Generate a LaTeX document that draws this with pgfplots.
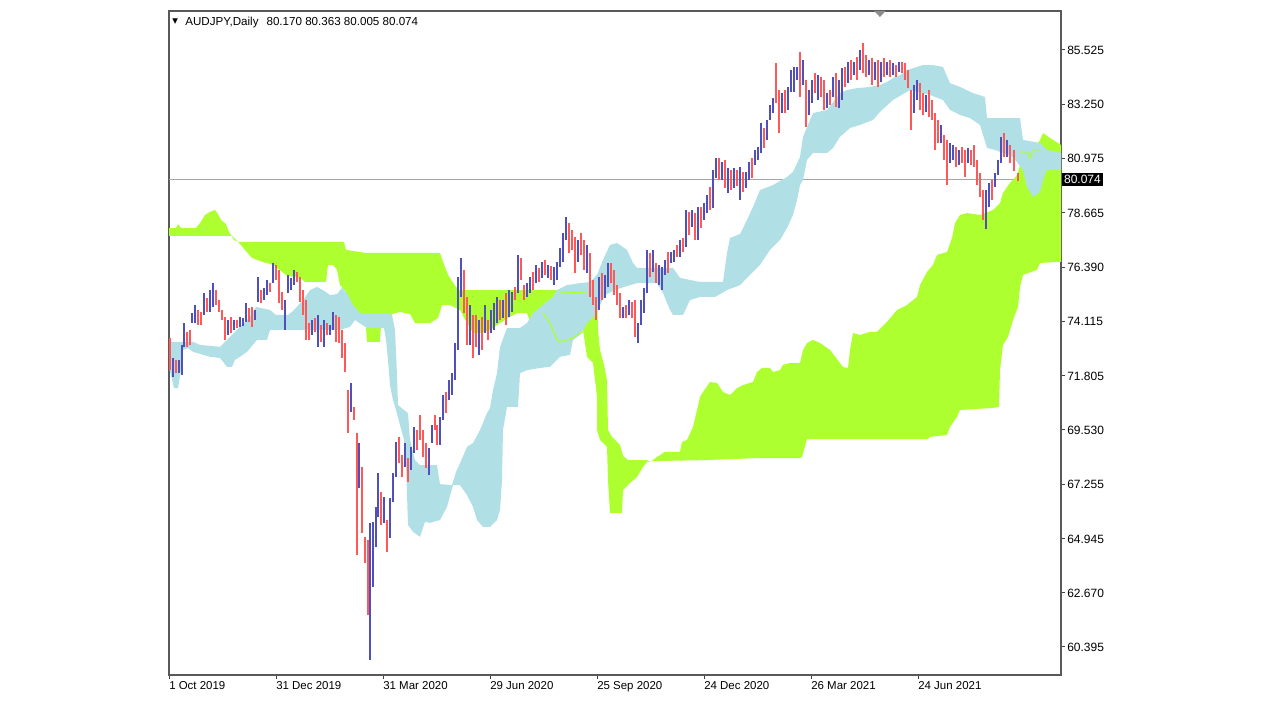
\documentclass[border=0pt]{standalone}
\usepackage{pgfplots}
\usepackage{pgfplotstable}
\pgfplotsset{compat=1.18}
\usepackage{fontspec}
\setmainfont{Liberation Sans}
\newfontfamily\dejavu{DejaVu Sans}
\definecolor{kumoG}{RGB}{173,255,47}
\definecolor{kumoB}{RGB}{176,224,230}
\definecolor{barUp}{RGB}{80,80,188}
\definecolor{barDn}{RGB}{255,88,88}

\pgfplotstableread{
x lo hi
4 71.76 72.56
10 71.92 72.48
13 71.84 73.11
15 73.03 74.03
23 74.03 74.45
26 74.03 74.79
35 74.37 75.29
41 74.50 75.42
44 74.71 75.71
59 73.53 74.16
65 73.74 74.16
71 73.87 74.29
74 73.91 74.24
77 74.08 74.87
86 74.16 74.58
89 74.92 75.97
95 75.00 75.51
98 75.21 75.84
104 75.71 76.56
116 73.74 75.00
119 75.29 76.06
122 75.42 75.93
125 75.63 76.27
143 73.53 74.16
149 73.03 74.37
155 73.03 74.16
161 73.53 73.95
164 73.74 74.50
182 70.29 71.51
190 67.08 68.98
201 59.85 65.62
204 62.92 65.66
207 64.61 66.29
209 65.87 67.72
215 65.62 66.71
221 64.98 66.66
224 66.50 67.72
227 67.55 69.03
236 67.97 68.98
242 67.84 68.82
245 68.56 69.66
260 67.63 68.77
263 68.98 69.74
271 68.90 70.08
274 69.95 71.00
280 70.79 71.63
283 71.00 71.92
286 71.63 73.19
289 72.90 75.97
292 75.13 76.77
301 73.11 74.79
310 72.69 74.16
316 73.61 74.79
322 73.61 74.58
325 73.74 74.87
328 74.03 75.13
334 74.24 75.00
340 74.29 75.42
343 74.50 75.34
349 75.29 76.90
358 75.13 75.71
361 75.29 75.97
367 75.71 76.48
373 75.93 76.61
379 75.93 76.48
385 75.63 76.40
388 75.84 76.61
391 76.40 77.19
394 76.61 77.82
397 77.53 78.49
409 76.61 77.53
418 76.14 77.32
430 74.58 75.97
436 75.08 76.06
439 75.55 76.56
454 74.24 74.71
460 74.37 75.00
469 73.19 74.03
472 73.95 75.00
475 74.45 75.51
478 75.29 77.11
484 76.19 77.11
490 75.63 76.48
493 75.42 76.40
496 76.06 76.69
502 76.56 77.02
505 76.61 77.11
511 76.81 77.53
517 77.23 78.79
523 78.08 78.79
529 77.53 78.92
535 78.37 79.08
538 78.66 79.42
544 78.87 80.47
547 80.14 80.98
553 80.05 80.81
559 79.51 80.56
565 79.72 80.56
571 79.21 80.60
577 79.72 80.39
580 80.05 80.81
586 80.68 81.32
589 80.90 81.44
592 81.19 82.45
598 81.74 82.58
601 82.58 83.21
604 82.87 83.50
613 82.87 83.71
619 83.00 83.97
622 83.76 84.68
625 83.76 84.81
628 84.26 84.81
634 84.05 85.10
640 82.79 83.84
643 83.29 84.26
649 83.42 84.47
658 83.08 83.71
664 83.55 84.39
670 83.08 84.26
673 83.42 84.76
679 84.13 85.02
685 84.47 85.02
691 84.68 85.53
700 84.47 85.10
706 84.26 85.02
712 84.18 85.02
718 84.47 85.02
724 84.47 84.97
730 84.60 85.02
745 82.87 84.05
748 83.42 84.26
757 82.92 83.63
772 81.61 82.37
781 80.77 81.61
784 80.90 81.53
790 80.68 81.32
799 80.77 81.40
817 77.99 79.63
820 78.92 79.93
826 79.76 80.35
829 80.26 80.90
832 80.77 81.87
838 81.02 81.74
}\upbars

\pgfplotstableread{
x lo hi
1 72.05 73.40
7 71.92 72.48
18 73.03 73.66
21 73.11 73.74
29 73.95 74.58
32 73.95 74.50
38 74.50 75.08
47 74.79 75.42
50 74.50 75.00
53 74.16 74.58
56 73.32 74.29
62 73.61 74.29
68 73.82 74.16
80 74.08 74.66
83 73.87 74.71
92 74.87 75.42
101 75.34 75.71
107 75.84 76.48
110 74.87 76.27
113 74.58 75.34
128 75.76 76.19
131 74.92 75.97
134 74.37 75.42
137 73.32 75.00
140 73.32 74.03
146 73.66 74.24
152 73.24 73.95
158 73.53 74.03
167 73.24 74.37
170 73.19 74.29
173 72.56 73.74
176 71.97 73.19
179 69.40 71.21
185 69.95 70.50
188 64.27 69.40
193 65.19 67.97
196 63.93 65.03
199 61.74 64.90
212 65.53 66.92
218 64.40 65.74
230 68.13 69.24
233 67.55 68.48
239 67.34 68.35
248 68.69 69.53
251 69.11 70.16
254 68.39 69.53
257 67.93 68.98
266 69.53 70.16
268 68.90 69.74
277 70.24 71.13
295 74.45 76.27
298 73.11 75.13
304 72.56 74.37
307 73.03 74.37
313 72.90 74.29
319 73.32 74.16
331 74.16 75.00
337 73.95 75.29
346 75.00 75.55
352 75.84 76.77
355 75.00 75.63
364 75.42 76.19
370 75.76 76.35
376 76.06 76.69
382 75.84 76.44
400 76.98 78.24
403 77.11 77.95
406 76.14 77.65
412 76.90 77.82
415 76.27 77.53
421 75.13 76.98
424 74.79 75.84
427 74.16 75.13
433 75.00 76.14
442 75.71 76.56
445 75.21 76.27
448 74.79 75.63
451 74.24 75.29
457 74.24 74.79
463 74.24 74.92
466 73.45 75.00
481 75.97 76.98
487 75.71 76.56
499 76.14 77.02
508 76.81 77.32
514 77.02 77.61
520 77.74 78.71
526 77.53 78.66
532 78.03 78.92
541 78.79 79.76
550 80.05 80.98
556 79.72 80.90
562 79.63 80.47
568 79.80 80.47
574 79.55 80.39
583 80.14 80.98
595 81.40 82.24
607 83.29 84.97
610 82.03 83.84
616 82.87 83.84
631 83.55 85.44
637 82.29 84.26
646 83.71 84.55
652 83.55 84.39
655 83.00 84.26
661 83.21 83.84
667 83.13 84.55
676 83.97 84.81
682 84.26 85.10
688 84.26 85.23
694 84.55 85.82
697 84.39 85.31
703 84.05 85.19
709 83.97 85.10
715 84.39 85.19
721 84.39 85.10
727 84.39 84.89
733 84.55 85.02
736 84.26 84.97
739 83.92 84.68
742 82.16 83.84
751 83.00 84.13
754 82.79 83.71
760 82.71 83.84
763 82.58 83.42
766 81.32 82.87
769 81.61 82.58
775 80.90 81.95
778 79.84 81.74
787 80.60 81.44
793 80.77 81.44
796 80.18 81.32
802 80.68 81.32
805 80.60 81.53
808 79.84 80.90
811 79.34 80.35
814 78.37 79.63
823 79.21 80.05
835 81.02 82.03
841 80.77 81.53
845 80.42 81.32
849 80.005 80.363
}\dnbars

\begin{document}
\begin{tikzpicture}
\path[use as bounding box] (0,0) rectangle (960pt,540pt);
\begin{axis}[
  at={(126.75pt,33.75pt)}, anchor=south west,
  scale only axis, width=669pt, height=498pt,
  xmin=0, xmax=892, ymin=59.216, ymax=87.167,
  axis line style={black!65, line width=0.9pt},
  tick style={black!75, line width=0.75pt},
  tick align=outside, major tick length=3pt,
  xtick pos=bottom, ytick pos=right, yticklabel pos=right,
  xtick={0,107,214,321,428,535,642,749},
  xticklabels={1 Oct 2019,31 Dec 2019,31 Mar 2020,29 Jun 2020,25 Sep 2020,24 Dec 2020,26 Mar 2021,24 Jun 2021},
  xticklabel style={anchor=north west, inner sep=0pt, yshift=-1.5pt, font=\fontsize{8.6}{10}\selectfont},
  ytick={60.395,62.670,64.945,67.255,69.530,71.805,74.115,76.390,78.665,80.975,83.250,85.525},
  yticklabels={60.395,62.670,64.945,67.255,69.530,71.805,74.115,76.390,78.665,80.975,83.250,85.525},
  yticklabel style={anchor=west, inner sep=0pt, xshift=1.5pt, font=\fontsize{9}{10}\selectfont},
  clip=false,
]
% current price line
\addplot[black!35, line width=0.8pt, forget plot] coordinates {(0,80.074) (892,80.074)};

% green kumo, upper left
\addplot[fill=kumoG, draw=none, forget plot] coordinates {
(0,78.03) (7,78.03) (9,78.20) (12,78.03) (27,78.03) (31,78.24) (36,78.58) (41,78.71) (46,78.79) (49,78.62) (52,78.37) (57,78.20) (60,77.87) (65,77.53) (69,77.45) (175,77.45) (177,77.11) (197,76.98) (271,76.98) (274,76.61) (279,76.06) (287,75.55) (291,75.42) (391,75.42) (393,75.29)
(381,75.00) (376,74.33) (371,74.50) (366,74.50) (361,74.08) (358,74.45) (348,74.45) (341,74.29) (331,74.03) (321,73.74) (311,73.61) (304,73.61) (298,74.03) (291,74.58) (281,74.79) (273,74.79) (269,74.24) (261,74.03) (246,74.03) (241,74.41) (231,74.50) (223,74.41) (219,74.08) (212,73.95) (211,73.24) (198,73.24) (197,73.87) (191,74.08) (184,74.58) (177,75.34) (171,75.63) (168,76.27) (164,76.48) (159,76.48) (157,75.76) (136,75.76) (131,75.93) (118,76.02) (104,76.48) (93,76.61) (83,76.77) (76,77.11) (71,77.36) (67,77.53) (63,77.70) (0,77.70)
} -- cycle;

% green kumo, middle and right
\addplot[fill=kumoG, draw=none, forget plot] coordinates {
(414,75.29) (428,75.29) (429,73.74) (431,72.90) (435,72.27) (438,71.63) (439,69.53) (443,69.24) (451,68.90) (454,68.44) (459,68.26) (478,68.26) (481,68.18) (488,68.39) (496,68.61) (511,68.61) (513,69.03) (518,69.11) (524,69.66) (528,70.37) (531,70.92) (534,71.13) (541,71.55) (548,71.51) (554,71.13) (561,71.00) (568,71.29) (574,71.42) (584,71.55) (588,71.97) (593,72.14) (601,72.14) (604,71.97) (611,72.05) (614,72.27) (621,72.35) (631,72.35) (634,72.90) (638,73.19) (644,73.32) (651,73.19) (661,72.90) (674,72.18) (679,72.14) (681,72.90) (684,73.61) (691,73.53) (701,73.66) (708,73.66) (718,74.08) (728,74.58) (738,74.79) (748,75.13) (751,75.63) (758,76.18) (764,76.48) (768,76.90) (778,77.02) (783,77.61) (786,78.24) (791,78.58) (798,78.66) (811,78.58) (824,78.79) (831,79.08) (834,79.51) (841,79.93) (848,80.26) (851,80.68) (858,80.90) (871,81.74) (874,82.03) (881,81.82) (892,81.53)
(892,76.61) (871,76.56) (868,76.27) (854,76.06) (851,75.55) (849,74.71) (844,74.16) (839,73.45) (834,73.11) (831,72.05) (830,70.50) (824,70.46) (791,70.37) (788,70.08) (781,69.66) (778,69.32) (761,69.24) (759,69.15) (638,69.15) (633,68.39) (631,68.35) (591,68.35) (534,68.26) (484,68.22) (478,68.18) (474,67.97) (468,67.55) (461,67.30) (454,67.00) (453,66.04) (441,66.04) (439,67.42) (438,68.82) (431,69.11) (428,69.53) (428,70.92) (424,72.35) (418,72.61) (414,73.74)
} -- cycle;

% blue kumo, left
\addplot[fill=kumoB, draw=none, forget plot] coordinates {
(0,73.24) (24,73.24) (31,73.11) (51,73.03) (61,73.45) (71,73.87) (81,74.29) (87,74.71) (101,74.58) (107,74.37) (119,74.37) (125,74.58) (134,75.00) (141,75.42) (148,75.55) (154,75.42) (161,75.21) (168,75.25) (173,75.51) (178,75.29) (184,74.79) (191,74.45) (218,74.45) (223,74.37) (226,73.74) (228,71.84) (229,70.58) (235,70.37)
(235,69.11) (231,69.74) (227,70.37) (224,70.79) (221,71.42) (219,72.48) (217,73.32) (215,73.82) (198,73.82) (186,74.16) (181,73.87) (171,73.74) (101,73.74) (98,73.32) (88,73.32) (78,72.82) (71,72.61) (66,72.48) (63,72.19) (58,72.19) (51,72.56) (41,72.61) (24,72.82) (19,72.98) (14,72.90) (12,72.05) (9,71.29) (5,71.29) (2,71.84) (0,72.14)
} -- cycle;

% blue kumo, middle and right
\addplot[fill=kumoB, draw=none, forget plot] coordinates {
(235,70.37) (239,70.24) (241,69.11) (246,68.26) (251,68.05) (268,68.05) (271,67.25) (283,67.21) (287,67.76) (291,68.13) (298,68.82) (304,68.98) (311,69.53) (318,70.24) (321,70.45) (324,71.21) (328,71.92) (331,73.03) (338,73.82) (351,73.82) (358,74.03) (364,74.45) (368,74.58) (376,74.87) (384,75.13) (388,75.42) (398,75.63) (411,75.71) (421,75.76) (428,76.06) (434,76.69) (441,77.32) (448,77.40) (458,77.11) (464,76.56) (468,76.35) (504,76.35) (511,75.93) (531,75.76) (554,75.76) (558,76.98) (561,77.61) (571,77.78) (578,78.37) (584,78.92) (591,79.63) (604,79.84) (618,80.18) (624,80.39) (631,81.02) (634,81.87) (641,82.58) (644,82.87) (658,83.00) (671,83.71) (678,83.84) (688,83.92) (701,83.97) (711,84.05) (718,84.18) (724,84.34) (731,84.47) (738,84.68) (744,84.76) (754,84.89) (764,84.89) (774,84.81) (781,84.13) (791,83.97) (804,83.71) (816,83.55) (818,82.66) (851,82.66) (854,81.74) (871,81.61) (878,81.32) (892,81.19)
(892,80.47) (878,80.47) (874,80.05) (871,79.55) (864,79.34) (858,79.76) (854,80.47) (844,81.02) (826,81.32) (818,81.40) (811,82.37) (801,82.66) (791,82.79) (781,83.00) (774,83.42) (761,83.63) (741,83.84) (724,83.42) (711,82.92) (704,82.58) (691,82.37) (681,82.24) (671,81.87) (664,81.40) (658,81.19) (644,81.19) (638,80.90) (634,80.05) (631,79.84) (628,79.21) (624,78.58) (618,78.03) (611,77.53) (601,77.11) (591,76.48) (581,76.06) (571,75.63) (558,75.42) (546,75.13) (531,75.13) (521,75.00) (514,74.37) (504,74.37) (501,74.58) (494,75.29) (488,75.71) (468,75.71) (461,75.63) (446,75.42) (436,75.21) (431,74.79) (426,74.37) (418,74.03) (411,73.53) (404,73.32) (401,72.69) (391,72.61) (381,72.19) (371,72.14) (358,72.05) (351,71.92) (349,70.50) (338,70.50) (334,69.53) (333,67.42) (331,66.16) (328,65.74) (321,65.45) (314,65.45) (308,65.74) (304,66.29) (298,66.79) (291,67.21) (284,67.21) (278,66.29) (271,65.74) (261,65.62) (256,65.66) (251,65.03) (244,65.24) (239,65.53) (237,68.13) (235,69.11)
} -- cycle;

% thin span lines crossing the blue kumo
\addplot[kumoG, line width=0.9pt, forget plot] coordinates {(374,74.45) (381,74.03) (388,73.32) (391,73.24) (404,73.40) (408,73.53) (414,73.66)};
\addplot[kumoG, line width=0.9pt, forget plot] coordinates {(391,75.34) (418,75.29)};
\addplot[kumoG, line width=0.9pt, forget plot] coordinates {(851,81.23) (859,81.23) (861,80.98) (864,81.32) (871,81.32)};

% price bars
\addplot[only marks, mark=*, mark size=0pt, mark options={draw opacity=0, fill opacity=0}, forget plot,
  error bars/.cd, y dir=plus, y explicit, error mark=none, error bar style={draw=barUp, solid, line width=1.7pt}]
  table[x=x, y=lo, y error expr=\thisrow{hi}-\thisrow{lo}] {\upbars};
\addplot[only marks, mark=*, mark size=0pt, mark options={draw opacity=0, fill opacity=0}, forget plot,
  error bars/.cd, y dir=plus, y explicit, error mark=none, error bar style={draw=barDn, solid, line width=1.7pt}]
  table[x=x, y=lo, y error expr=\thisrow{hi}-\thisrow{lo}] {\dnbars};

% header text and price tag
\node[anchor=west, inner sep=0pt, font=\fontsize{8.7}{10}\selectfont] at ([xshift=2.3pt,yshift=-8.3pt]rel axis cs:0,1)
  {\raisebox{1.2pt}{\dejavu\fontsize{5.5}{6}\selectfont ▼}\hspace{5.5pt}AUDJPY,Daily\hspace{6pt}80.170 80.363 80.005 80.074};
\node[anchor=west, fill=black, text=white, inner xsep=1.5pt, inner ysep=1.6pt, font=\fontsize{9}{10}\selectfont] at ([xshift=0.6pt]axis cs:892,80.074) {80.074};
\fill[black!45] ([xshift=-4.3pt]rel axis cs:0.797,1) -- ([xshift=4.3pt]rel axis cs:0.797,1) -- ([yshift=-4.5pt]rel axis cs:0.797,1) -- cycle;
\end{axis}
\end{tikzpicture}
\end{document}
